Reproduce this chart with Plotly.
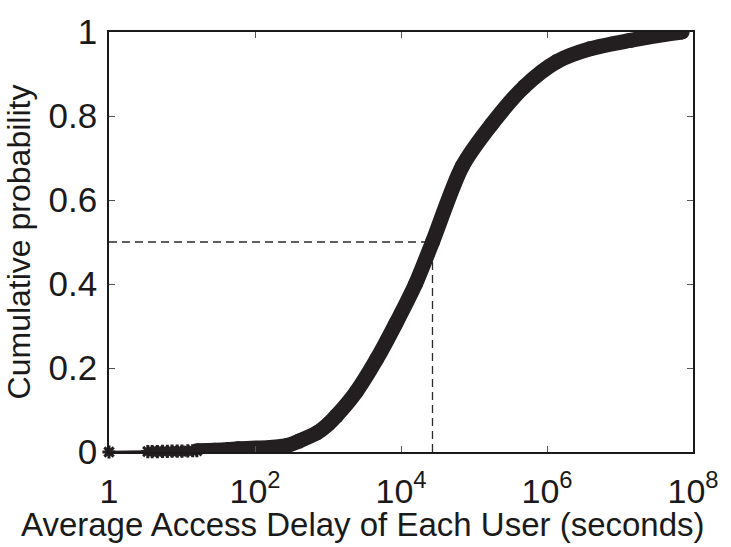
import plotly.graph_objects as go

# Empirical CDF of the average access delay per user (seconds)
# sparse low-delay tail: individual users near zero probability
tail_delay = [1, 3.4, 3.9, 4.6, 5.4, 6.3, 7.3, 8.6, 10, 12, 14, 16]
tail_cdf = [0.0, 0.001, 0.001, 0.001, 0.0015, 0.0015, 0.002, 0.002, 0.002, 0.0025, 0.003, 0.003]

# dense body of the distribution
body_delay = [16, 28, 44, 59, 160, 280, 400, 710, 1000, 1300, 2450, 4600, 8500, 15800,
              27000, 69000, 174000, 490000, 1.38e6, 3.9e6, 1.38e7, 5.75e7, 7.1e7]
body_cdf = [0.003, 0.004, 0.006, 0.008, 0.011, 0.016, 0.026, 0.046, 0.066, 0.086, 0.144, 0.22,
            0.306, 0.40, 0.50, 0.68, 0.78, 0.87, 0.93, 0.96, 0.98, 0.998, 1.0]

median_delay = 27000
median_cdf = 0.5

x_tickvals = [1, 1e2, 1e4, 1e6, 1e8]
x_ticktext = ["1", "10<sup>2</sup>", "10<sup>4</sup>", "10<sup>6</sup>", "10<sup>8</sup>"]
y_tickvals = [0, 0.2, 0.4, 0.6, 0.8, 1]
y_ticktext = ["0", "0.2", "0.4", "0.6", "0.8", "1"]

x_title = "Average Access Delay of Each User (seconds)"
y_title = "Cumulative probability"

curve_color = "#231f20"
font_family = "Liberation Sans, Arial, Helvetica, sans-serif"

fig = go.Figure()

# median guide lines
fig.add_trace(go.Scatter(
    x=[tail_delay[0], median_delay], y=[median_cdf, median_cdf],
    mode="lines", line=dict(color="#2a2a2a", width=1.3, dash="8px,5px"),
    hoverinfo="skip", showlegend=False))
fig.add_trace(go.Scatter(
    x=[median_delay, median_delay], y=[0, median_cdf],
    mode="lines", line=dict(color="#2a2a2a", width=1.3, dash="8px,5px"),
    hoverinfo="skip", showlegend=False))

# sparse tail
fig.add_trace(go.Scatter(
    x=tail_delay, y=tail_cdf, mode="lines+markers",
    line=dict(color=curve_color, width=2.5),
    marker=dict(symbol="asterisk-open", size=11, line=dict(color=curve_color, width=3)),
    cliponaxis=False, showlegend=False))

# dense body drawn as a heavy band
fig.add_trace(go.Scatter(
    x=body_delay, y=body_cdf, mode="lines+markers",
    line=dict(color=curve_color, width=15, shape="spline", smoothing=0.8),
    marker=dict(symbol="circle", size=15, color=curve_color),
    showlegend=False))

# x-axis title, centred on the figure
fig.add_annotation(
    text=x_title, xref="paper", yref="paper", x=(366 - 109) / 592, y=-0.222,
    xanchor="center", yanchor="bottom", showarrow=False,
    font=dict(size=33, family=font_family, color="#1a1a1a"))

fig.update_layout(
    width=731, height=547,
    margin=dict(l=109, r=30, t=21, b=95),
    paper_bgcolor="white", plot_bgcolor="white",
    font=dict(family=font_family, color="#1a1a1a"),
    xaxis=dict(
        type="log", range=[0, 8],
        tickvals=x_tickvals, ticktext=x_ticktext,
        ticks="inside", ticklen=6, tickwidth=1, tickcolor="#555555",
        showline=True, linecolor="#1a1a1a", linewidth=1.5, mirror="allticks",
        showgrid=False, zeroline=False,
        tickfont=dict(size=34),
        ticklabelstandoff=8,
    ),
    yaxis=dict(
        range=[0, 1],
        tickvals=y_tickvals, ticktext=y_ticktext,
        ticks="inside", ticklen=6, tickwidth=1, tickcolor="#555555",
        showline=True, linecolor="#1a1a1a", linewidth=1.5, mirror="allticks",
        showgrid=False, zeroline=False,
        tickfont=dict(size=35),
        ticklabelstandoff=3,
        title=dict(text=y_title, font=dict(size=32), standoff=8),
    ),
)

fig.write_html("out.html")
